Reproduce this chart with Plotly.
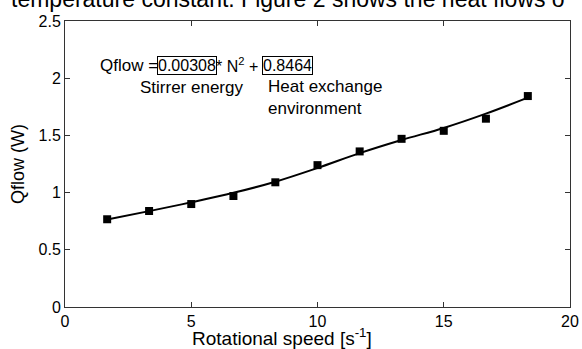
import plotly.graph_objects as go

speed = [1.67, 3.33, 5.0, 6.67, 8.33, 10.0, 11.67, 13.33, 15.0, 16.67, 18.33]
qflow = [0.767, 0.839, 0.90, 0.97, 1.09, 1.24, 1.36, 1.47, 1.54, 1.646, 1.844]
fit_speed = [1.67, 3.33, 5.0, 6.67, 8.33, 10.0, 11.67, 13.33, 15.0, 16.67, 18.33]
fit_q = [0.765, 0.838, 0.915, 0.998, 1.095, 1.215, 1.345, 1.46, 1.565, 1.69, 1.83]
xticks = [0, 5, 10, 15, 20]
yticks = [0, 0.5, 1, 1.5, 2, 2.5]

FONT = "Liberation Sans, Arial, sans-serif"
L, R, T, B = 65, 12, 21, 42
W, H = 582, 349
pw = W - L - R
ph = H - T - B

def px2x(p):
    return (p - L) / pw * 20

def py2y(p):
    return (H - B - p) / ph * 2.5

def ppx(p):
    return (p - L) / pw

def ppy(p):
    return (H - B - p) / ph

fig = go.Figure()
fig.add_trace(go.Scatter(x=fit_speed, y=fit_q, mode="lines", line=dict(color="black", width=2, shape="spline"),
                         showlegend=False, hoverinfo="skip"))
fig.add_trace(go.Scatter(x=speed, y=qflow, mode="markers",
                         marker=dict(symbol="square", size=8, color="black"), showlegend=False))

axis_common = dict(showline=True, linecolor="#333", linewidth=1, mirror="ticks", ticks="inside",
                   ticklen=5, tickcolor="#333", showgrid=False, zeroline=False, automargin=False,
                   tickfont=dict(family=FONT, size=16, color="black"))
fig.update_xaxes(range=[0, 20], tickvals=xticks, ticktext=[str(v) for v in xticks], **axis_common)
fig.update_yaxes(range=[0, 2.5], tickvals=yticks, ticktext=["0", "0.5", "1", "1.5", "2", "2.5"], **axis_common)

af = dict(family=FONT, size=17, color="black")
ef = dict(family=FONT, size=16, color="black")
ann = [
    dict(x=px2x(98), y=py2y(65), text="Qflow =", xanchor="left", yanchor="middle", font=af),
    dict(x=px2x(157), y=py2y(65), text="0.00308", xanchor="left", yanchor="middle", bordercolor="black", borderwidth=1, borderpad=0, font=ef),
    dict(x=px2x(214), y=py2y(65), text="* N<sup>2</sup> +", xanchor="left", yanchor="middle", font=ef),
    dict(x=px2x(262), y=py2y(65), text="0.8464", xanchor="left", yanchor="middle", bordercolor="black", borderwidth=1, borderpad=0, font=ef),
    dict(x=px2x(138), y=py2y(87), text="Stirrer energy", xanchor="left", yanchor="middle", font=af),
    dict(x=px2x(266), y=py2y(97), text="Heat exchange<br>environment", xanchor="left", yanchor="middle", align="left", font=af),
]
annotations = [dict(a, xref="x", yref="y", showarrow=False) for a in ann]
annotations.append(dict(x=ppx(9), y=ppy(-1), xref="paper", yref="paper", xanchor="left", yanchor="middle",
                        text="temperature constant. Figure 2 shows the heat flows o", showarrow=False,
                        font=dict(family=FONT, size=23, color="black")))
annotations.append(dict(x=ppx(282), y=ppy(337), xref="paper", yref="paper", xanchor="center", yanchor="middle",
                        text="Rotational speed [s<sup>-1</sup>]", showarrow=False,
                        font=dict(family=FONT, size=19, color="black")))
annotations.append(dict(x=ppx(18), y=ppy(164), xref="paper", yref="paper", xanchor="center", yanchor="middle",
                        text="Qflow (W)", textangle=-90, showarrow=False,
                        font=dict(family=FONT, size=18, color="black")))

fig.update_layout(width=W, height=H, margin=dict(l=L, r=R, t=T, b=B), plot_bgcolor="white",
                  paper_bgcolor="white", annotations=annotations)
fig.write_html("out.html")
